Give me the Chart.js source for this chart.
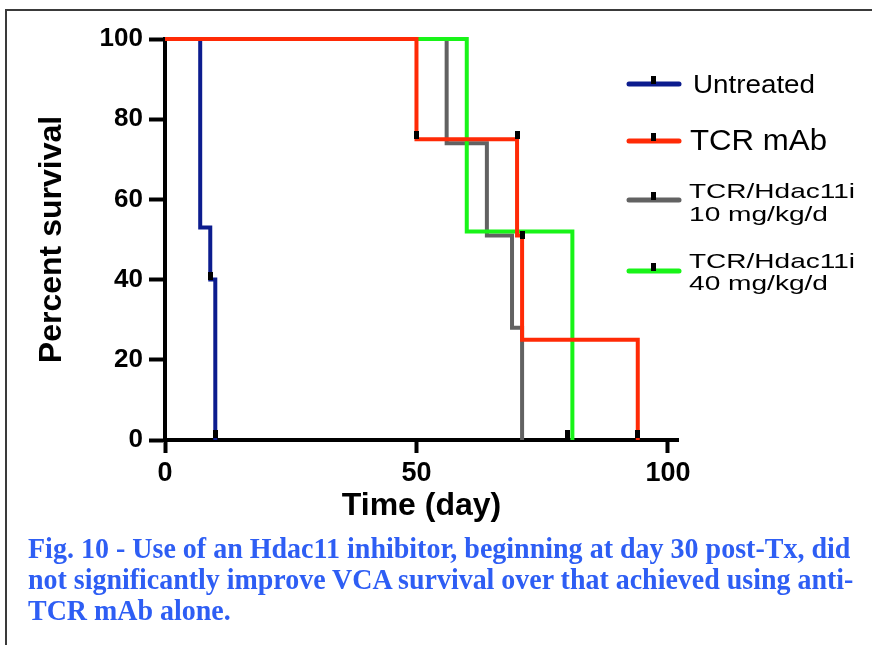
<!DOCTYPE html>
<html>
<head>
<meta charset="utf-8">
<script src="https://cdn.jsdelivr.net/npm/chart.js@4.4.0/dist/chart.umd.min.js"></script>
<style>
html,body{margin:0;padding:0;background:#fff;}
#wrap{position:relative;width:872px;height:645px;overflow:hidden;background:#fff;}
#frame{position:absolute;left:5px;top:9px;width:900px;height:700px;border-left:2px solid #3a3a3a;border-top:2px solid #3a3a3a;box-sizing:border-box;}
#c{position:absolute;left:0;top:0;}
.cap{position:absolute;left:28px;white-space:nowrap;font-family:"Liberation Serif","Times New Roman",serif;font-weight:bold;font-size:29px;line-height:29px;color:#2e5ef4;transform-origin:0 0;}
</style>
</head>
<body>
<div id="wrap">
  <div id="frame"></div>
  <canvas id="c" width="872" height="645"></canvas>
  <div class="cap" id="cap1" style="top:534px">Fig. 10 - Use of an Hdac11 inhibitor, beginning at day 30 post-Tx, did</div>
  <div class="cap" id="cap2" style="top:565px">not significantly improve VCA survival over that achieved using anti-</div>
  <div class="cap" id="cap3" style="top:596px">TCR mAb alone.</div>
</div>
<script>
// ---- data ----
const seriesLabels = ['Untreated', 'TCR mAb', 'TCR/Hdac11i\n10 mg/kg/d', 'TCR/Hdac11i\n40 mg/kg/d'];
const untreatedDays = [0, 7, 9, 10];
const untreatedSurvival = [100, 53, 40, 0];
const tcrDays = [0, 50, 70, 71, 94];
const tcrSurvival = [100, 75, 51, 25, 0];
const hdac10Days = [0, 56, 64, 69, 71];
const hdac10Survival = [100, 74, 51, 28, 0];
const hdac40Days = [0, 60, 81];
const hdac40Survival = [100, 52, 0];
const censorDays = [9, 10, 50, 70, 71, 80, 94];
const censorSurvival = [41, 1.5, 76, 76, 51, 1.5, 1.5];
const xTickValues = [0, 50, 100];
const yTickValues = [0, 20, 40, 60, 80, 100];

// ---- styles ----
const FONT = '"Liberation Sans", Arial, Helvetica, sans-serif';
const colors = ['#0c1c8e', '#ff2a06', '#626262', '#18f418'];

function pts(xs, ys) { return xs.map((x, i) => ({x: x, y: ys[i]})); }

const mark = document.createElement('canvas');
mark.width = 5; mark.height = 8;
(function(){ const g = mark.getContext('2d'); g.fillStyle = '#000'; g.fillRect(0, 0, 5, 8); })();

const seriesData = [
  pts(untreatedDays, untreatedSurvival),
  pts(tcrDays, tcrSurvival),
  pts(hdac10Days, hdac10Survival),
  pts(hdac40Days, hdac40Survival)
];
const drawOrder = [3, 0, 2, 1];

const datasets = seriesData.map((d, i) => ({
  type: 'line',
  label: seriesLabels[i],
  data: d,
  stepped: true,
  borderColor: colors[i],
  backgroundColor: colors[i],
  borderWidth: 4,
  pointRadius: 0,
  fill: false,
  clip: false,
  order: drawOrder[i],
  borderCapStyle: 'butt',
  borderJoinStyle: 'miter'
}));
datasets.push({
  type: 'scatter',
  label: 'censored',
  data: pts(censorDays, censorSurvival),
  showLine: false,
  pointStyle: mark,
  pointRadius: 4,
  clip: false,
  order: -1
});

// legend layout (style only)
const legendLayout = [
  {lineY: 84, textX: 693, lines: [{base: 93, size: 26, width: 122}]},
  {lineY: 141, textX: 690, lines: [{base: 150, size: 29, width: 137}]},
  {lineY: 200, textX: 689, lines: [{base: 198, size: 21, width: 166}, {base: 221, size: 20, width: 139}]},
  {lineY: 271, textX: 689, lines: [{base: 268, size: 21, width: 166}, {base: 290, size: 20, width: 139}]}
];

const legendPlugin = {
  id: 'customLegend',
  afterDraw(chart) {
    const ctx = chart.ctx;
    ctx.save();
    legendLayout.forEach((L, i) => {
      ctx.strokeStyle = colors[i];
      ctx.lineWidth = 5;
      ctx.lineCap = 'round';
      ctx.beginPath();
      ctx.moveTo(629, L.lineY);
      ctx.lineTo(679, L.lineY);
      ctx.stroke();
      ctx.fillStyle = '#000';
      ctx.fillRect(651, L.lineY - 8, 5, 8);
      const texts = seriesLabels[i].split('\n');
      texts.forEach((t, k) => {
        const s = L.lines[k];
        ctx.font = s.size + 'px ' + FONT;
        ctx.textBaseline = 'alphabetic';
        ctx.textAlign = 'left';
        const w = ctx.measureText(t).width;
        const sx = s.width / w;
        ctx.save();
        ctx.translate(L.textX, s.base);
        ctx.scale(sx, 1);
        ctx.fillStyle = '#000';
        ctx.fillText(t, 0, 0);
        ctx.restore();
      });
    });
    ctx.restore();
  }
};

new Chart(document.getElementById('c'), {
  data: {datasets: datasets},
  plugins: [legendPlugin],
  options: {
    responsive: false,
    animation: false,
    events: [],
    layout: {padding: {left: 0, top: 39, right: 194, bottom: 105}},
    plugins: {legend: {display: false}, tooltip: {enabled: false}},
    scales: {
      x: {
        type: 'linear', min: 0, max: 102,
        afterBuildTicks: s => { s.ticks = xTickValues.map(v => ({value: v})); },
        afterFit: s => { s.height = 100; },
        ticks: {font: {family: FONT, size: 27, weight: 'bold'}, color: '#000', padding: 4, maxRotation: 0},
        grid: {display: true, drawOnChartArea: false, drawTicks: true, tickLength: 13, tickWidth: 4, tickColor: '#000', color: '#000'},
        border: {display: true, color: '#000', width: 4},
        title: {display: true, text: 'Time (day)', color: '#000', font: {family: FONT, size: 32, weight: 'bold'}, padding: {top: 0, bottom: 15}}
      },
      y: {
        type: 'linear', min: 0, max: 100,
        afterBuildTicks: s => { s.ticks = yTickValues.map(v => ({value: v})); },
        afterFit: s => { s.width = 165; },
        ticks: {font: {family: FONT, size: 26, weight: 'bold'}, color: '#000', padding: 6},
        grid: {display: true, drawOnChartArea: false, drawTicks: true, tickLength: 16, tickWidth: 4, tickColor: '#000', color: '#000'},
        border: {display: true, color: '#000', width: 4},
        title: {display: true, text: 'Percent survival', color: '#000', font: {family: FONT, size: 32, weight: 'bold'}, padding: {top: 33, bottom: 0}}
      }
    }
  }
});

// fit caption lines to the reference widths
(function(){
  const c1 = document.getElementById('cap1'), c2 = document.getElementById('cap2'), c3 = document.getElementById('cap3');
  const s1 = 822 / c1.offsetWidth, s2 = 825 / c2.offsetWidth;
  c1.style.transform = 'scaleX(' + s1 + ')';
  c2.style.transform = 'scaleX(' + s2 + ')';
  c3.style.transform = 'scaleX(' + s2 + ')';
})();
</script>
</body>
</html>
